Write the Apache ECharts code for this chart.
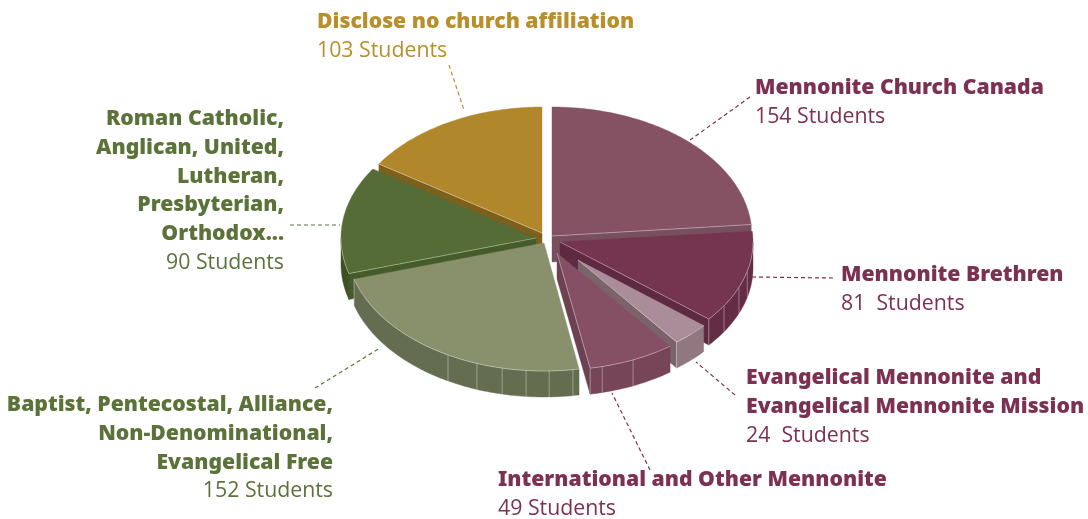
<!DOCTYPE html>
<html>
<head>
<meta charset="utf-8">
<style>html,body{margin:0;padding:0;background:#fff}#chart{width:1088px;height:519px}</style>
<script src="https://cdn.jsdelivr.net/npm/echarts@6/dist/echarts.min.js"></script>
</head>
<body>
<div id="chart"></div>
<script>
// ---- data ----
const categories = [
  'Mennonite Church Canada',
  'Mennonite Brethren',
  'Evangelical Mennonite and Evangelical Mennonite Mission',
  'International and Other Mennonite',
  'Baptist, Pentecostal, Alliance, Non-Denominational, Evangelical Free',
  'Roman Catholic, Anglican, United, Lutheran, Presbyterian, Orthodox...',
  'Disclose no church affiliation'
];
const students = [154, 81, 24, 49, 152, 90, 103];
const countSuffix = [' Students', '  Students', '  Students', ' Students', ' Students', ' Students', ' Students'];
const labelLines = [
  ['Mennonite Church Canada'],
  ['Mennonite Brethren'],
  ['Evangelical Mennonite and', 'Evangelical Mennonite Mission'],
  ['International and Other Mennonite'],
  ['Baptist, Pentecostal, Alliance,', 'Non-Denominational,', 'Evangelical Free'],
  ['Roman Catholic,', 'Anglican, United,', 'Lutheran,', 'Presbyterian,', 'Orthodox...'],
  ['Disclose no church affiliation']
];

// ---- styling / layout ----
const paintOrder = [6, 0, 5, 1, 2, 3, 4];
const depth = 26;
const geometry = [ // apex x, apex y, radius x, radius y
  [552, 236, 200, 129],
  [560, 242, 193, 121],
  [578, 260, 163, 103],
  [557, 253, 187, 117],
  [544, 243, 198, 128],
  [536, 238, 195, 126],
  [542, 233, 195, 126]
];
const colors = [ // top, cut wall, outer wall
  ['#855264', '#774f5e', '#774f5e'],
  ['#753450', '#5e2941', '#652c45'],
  ['#ab8d9a', '#7a6369', '#917880'],
  ['#855063', '#6e4152', '#764557'],
  ['#88916c', '#646d50', '#646d50'],
  ['#566c36', '#465b2a', '#3f5024'],
  ['#b0872b', '#7d601b', '#7d601b']
];
const facetDegrees = [[], [104, 112, 121.8], [], [156, 166], [171.6, 178.5, 185.2, 192.2, 199.8, 209], [], []];
const edge = 'rgba(255,255,255,0.36)';
const textColors = ['#7c3153', '#7c3153', '#7c3153', '#7c3153', '#5b7339', '#5b7339', '#b98f2b'];
const labelAnchors = [ // x, first line centre y, align
  [755, 88, 'left'],
  [841, 275, 'left'],
  [746, 378, 'left'],
  [498, 480, 'left'],
  [333, 405, 'right'],
  [284, 119, 'right'],
  [317, 22, 'left']
];
const leaders = [
  [[750, 97], [690, 140]],
  [[833, 278], [752, 277]],
  [[735, 395], [696, 362]],
  [[650, 470], [612, 393]],
  [[315, 388], [380, 348]],
  [[290, 225], [340, 225]],
  [[449, 65], [464, 110]]
];
const lineStep = 28.8;

// ---- angle scale from the values ----
const total = students.reduce((a, b) => a + b, 0);
const toRad = Math.PI / 180;
const starts = [];
let running = 0;
students.forEach(v => { starts.push(running / total * 360); running += v; });

function renderItem(params, api) {
  const i = api.value(0);
  const a0 = starts[i];
  const a1 = a0 + api.value(1) / total * 360;
  const [cx, cy, rx, ry] = geometry[i];
  const [cTop, cCut, cOuter] = colors[i];
  const pt = (a, dz) => [cx + rx * Math.sin(a * toRad), cy - ry * Math.cos(a * toRad) + (dz || 0)];
  const arc = (from, to, dz) => {
    const n = Math.max(1, Math.ceil((to - from) / 1));
    const out = [];
    for (let k = 0; k <= n; k++) out.push(pt(from + (to - from) * k / n, dz));
    return out;
  };
  const children = [];
  const poly = (points, fill, stroke) => children.push({
    type: 'polygon', shape: { points },
    style: { fill, stroke: stroke || fill, lineWidth: stroke ? 0.8 : 0.4 }
  });
  const line = (p, q) => children.push({
    type: 'line', shape: { x1: p[0], y1: p[1], x2: q[0], y2: q[1] },
    style: { stroke: edge, lineWidth: 1 }
  });
  const apex = [cx, cy];
  const apexLow = [cx, cy + depth];
  // cut walls, visible only when facing the viewer
  const wall = a => {
    const p = pt(a), q = pt(a, depth);
    poly([apex, p, q, apexLow], cCut);
  };
  if (Math.sin(a0 * toRad) < -1e-6) wall(a0);
  if (Math.sin(a1 * toRad) > 1e-6) wall(a1);
  // outer wall, front half only
  const from = Math.max(a0, 90), to = Math.min(a1, 270);
  if (to > from) {
    poly(arc(from, to, 0).concat(arc(from, to, depth).reverse()), cOuter);
    facetDegrees[i].forEach(f => line(pt(f), pt(f, depth)));
    if (a1 < 270) line(pt(a1), pt(a1, depth));
  }
  // top face
  poly([apex].concat(arc(a0, a1, 0)), cTop);
  // light edges
  const top = arc(a0, a1, 0);
  if (from < to) children.push({ type: 'polyline', shape: { points: arc(from, to, 0) }, style: { fill: 'none', stroke: edge, lineWidth: 1 } });
  if (Math.sin(a0 * toRad) < -1e-6) line(apex, top[0]);
  if (Math.sin(a1 * toRad) > 1e-6) line(apex, top[top.length - 1]);
  return { type: 'group', children };
}

// ---- labels and leader lines ----
const graphicElements = [];
leaders.forEach((l, i) => {
  graphicElements.push({
    type: 'polyline', z: 5, shape: { points: l },
    style: { stroke: textColors[i], lineWidth: 1.2, lineDash: [4, 3], fill: 'none' }
  });
});
const boldFont = '900 21.2px "Noto Sans"';
const plainFont = '400 21.3px "Open Sans"';
categories.forEach((c, i) => {
  const [x, y0, align] = labelAnchors[i];
  const lines = labelLines[i];
  const texts = lines.map(t => ({ t, f: boldFont })).concat([{ t: students[i] + countSuffix[i], f: plainFont }]);
  texts.forEach((o, k) => {
    graphicElements.push({
      type: 'text', z: 6, x, y: y0 + k * lineStep,
      style: { text: o.t, font: o.f, fill: textColors[i], textAlign: align, textVerticalAlign: 'middle' }
    });
  });
});

const chart = echarts.init(document.getElementById('chart'), null, { renderer: 'canvas' });
chart.setOption({
  animation: false,
  backgroundColor: '#ffffff',
  graphic: { elements: graphicElements },
  series: [{
    type: 'custom',
    coordinateSystem: 'none',
    renderItem,
    silent: true,
    dimensions: ['slice', 'students'],
    encode: { value: 1, itemName: 0 },
    data: paintOrder.map(i => [i, students[i]])
  }]
});
</script>
</body>
</html>
